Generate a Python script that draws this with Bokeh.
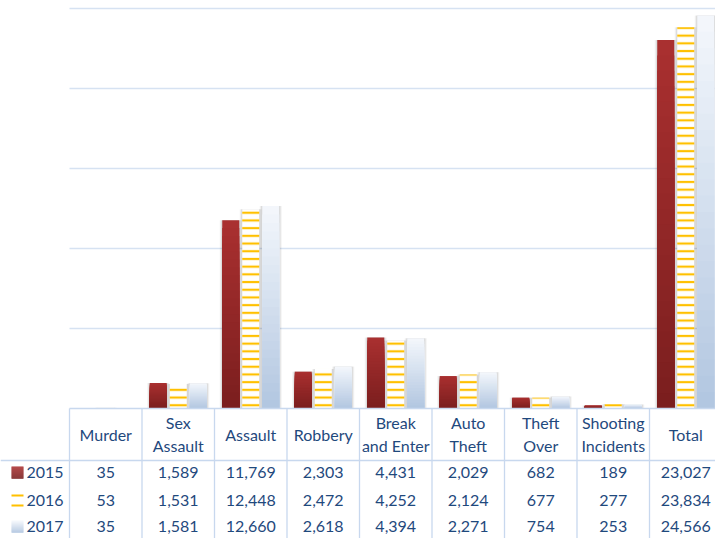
import numpy as np
from bokeh.plotting import figure
from bokeh.models import Range1d
from bokeh.core.properties import value
from bokeh.embed import file_html
from bokeh.resources import INLINE

# ---------------- data ----------------
categories = ["Murder", "Sex Assault", "Assault", "Robbery", "Break and Enter",
              "Auto Theft", "Theft Over", "Shooting Incidents", "Total"]
header_lines = [["Murder"], ["Sex", "Assault"], ["Assault"], ["Robbery"],
                ["Break", "and Enter"], ["Auto", "Theft"], ["Theft", "Over"],
                ["Shooting", "Incidents"], ["Total"]]
years = ["2015", "2016", "2017"]
v2015 = [35, 1589, 11769, 2303, 4431, 2029, 682, 189, 23027]
v2016 = [53, 1531, 12448, 2472, 4252, 2124, 677, 277, 23834]
v2017 = [35, 1581, 12660, 2618, 4394, 2271, 754, 253, 24566]
grid_values = [5000, 10000, 15000, 20000, 25000]

# ---------------- layout constants ----------------
W, H = 715, 538
COL = 72.5               # px per category
LEFT = 69                # px of the table's first column line
X0 = LEFT + COL / 2      # px of first category centre
YMIN, YMAX = -8125, 25500
UPP = (YMAX - YMIN) / H  # data units per pixel (y)
BAR_W = 17 / COL
OFF = 20 / COL
TEXT = "#1F497D"
LINE = "#C8D8EE"
FONT = value("Lato")
FS = "16px"

p = figure(width=W, height=H, output_backend="svg", toolbar_location=None,
           x_range=Range1d(-X0 / COL, (W - X0) / COL), y_range=Range1d(YMIN, YMAX),
           x_axis_location=None, y_axis_location=None, min_border=0,
           outline_line_color=None, background_fill_color="white",
           border_fill_color="white")
p.xgrid.visible = False
p.ygrid.visible = False
p.extra_y_ranges = {"px": Range1d(H, 0)}
p.extra_x_ranges = {"px": Range1d(0, W)}

idx = np.arange(len(categories))

# gridlines
p.segment(x0=[-0.5] * len(grid_values), x1=[len(categories) - 0.5] * len(grid_values),
          y0=grid_values, y1=grid_values, line_color="#D6E2F2", line_width=1.4)


def hex2rgb(h):
    h = h.lstrip("#")
    return np.array([int(h[i:i + 2], 16) for i in (0, 2, 4)], dtype=float)


def mix(c0, c1, t):
    c = hex2rgb(c0) * (1 - t) + hex2rgb(c1) * t
    return "#%02x%02x%02x" % tuple(int(round(v)) for v in c)


def shadow(xc, vals):
    px = 1 / COL
    for grow, a in ((2.5, 0.05), (1.5, 0.06), (0.7, 0.06)):
        p.quad(left=xc - BAR_W / 2 - grow * px, right=xc + BAR_W / 2 + grow * px,
               bottom=0, top=vals, fill_color="black", fill_alpha=a, line_color=None)


def gradient_bars(xc, vals, c_top, c_bot, n=24):
    vals = np.array(vals, dtype=float)
    for k in range(n):
        frac = (n - k) / n
        t = (n - k - 0.5) / n
        col = mix(c_bot, c_top, t)
        p.quad(left=xc - BAR_W / 2, right=xc + BAR_W / 2, bottom=0, top=vals * frac,
               fill_color=col, line_color=None)


x15, x16, x17 = idx - OFF, idx, idx + OFF
shadow(x15, v2015)
shadow(x16, v2016)
shadow(x17, v2017)

RED_TOP, RED_BOT = "#AA3030", "#7A1E1E"
BLUE_TOP, BLUE_BOT = "#F4F7FC", "#B1C6E0"
gradient_bars(x15, v2015, RED_TOP, RED_BOT)
p.quad(left=x16 - BAR_W / 2, right=x16 + BAR_W / 2, bottom=0, top=v2016,
       fill_color="white", line_color=None, hatch_pattern="horizontal_line",
       hatch_color="#FFC000", hatch_weight=2.2, hatch_scale=7.7)
gradient_bars(x17, v2017, BLUE_TOP, BLUE_BOT)

# ---------------- data table ----------------
TOP, HEAD_BOT = 408, 460
ROWS = [472, 500, 526]
# vertical lines
p.segment(x0=idx - 0.5, x1=idx - 0.5, y0=[TOP] * len(idx), y1=[H] * len(idx),
          line_color=LINE, line_width=1.3, y_range_name="px")
p.segment(x0=[len(idx) - 0.5], x1=[len(idx) - 0.5], y0=[TOP], y1=[H],
          line_color=LINE, line_width=1.3, y_range_name="px")
# horizontal lines
p.segment(x0=[-0.5], x1=[len(idx) + 0.5], y0=[TOP], y1=[TOP],
          line_color=LINE, line_width=1.3, y_range_name="px")
p.segment(x0=[0], x1=[W], y0=[HEAD_BOT], y1=[HEAD_BOT],
          line_color=LINE, line_width=1.3, x_range_name="px", y_range_name="px")

# header text
hx, hy, ht = [], [], []
for i, lines in enumerate(header_lines):
    if len(lines) == 1:
        hx.append(i); hy.append(434); ht.append(lines[0])
    else:
        hx += [i, i]; hy += [422, 445]; ht += lines
p.text(x=hx, y=hy, text=ht, text_font=FONT, text_font_size=FS,
       text_color=TEXT, text_align="center", text_baseline="middle", y_range_name="px")

# values
for row_y, vals in zip(ROWS, (v2015, v2016, v2017)):
    p.text(x=idx, y=[row_y] * len(idx), text=[f"{v:,}" for v in vals], text_font=FONT,
           text_font_size=FS, text_color=TEXT, text_align="center",
           text_baseline="middle", y_range_name="px")

# legend column
p.text(x=[26] * 3, y=ROWS, text=years, text_font=FONT, text_font_size=FS,
       text_color=TEXT, text_align="left", text_baseline="middle",
       x_range_name="px", y_range_name="px")
n = 12
# 2015 key (gradient square)
for k in range(n):
    t = k / (n - 1)
    p.quad(left=11, right=23, top=ROWS[0] - 6 + k, bottom=ROWS[0] - 6 + k + 1.3,
           fill_color=mix(RED_TOP, RED_BOT, t), line_color=None,
           x_range_name="px", y_range_name="px")
# 2016 key (two short lines)
p.segment(x0=[11, 11], x1=[23, 23], y0=[ROWS[1] - 5, ROWS[1] + 5], y1=[ROWS[1] - 5, ROWS[1] + 5],
          line_color="#FFC000", line_width=2.2, x_range_name="px", y_range_name="px")
# 2017 key (gradient square)
for k in range(n):
    t = k / (n - 1)
    p.quad(left=11, right=23, top=ROWS[2] - 6 + k, bottom=ROWS[2] - 6 + k + 1.3,
           fill_color=mix(BLUE_TOP, BLUE_BOT, t), line_color=None,
           x_range_name="px", y_range_name="px")

open("out.html", "w").write(file_html(p, INLINE))
